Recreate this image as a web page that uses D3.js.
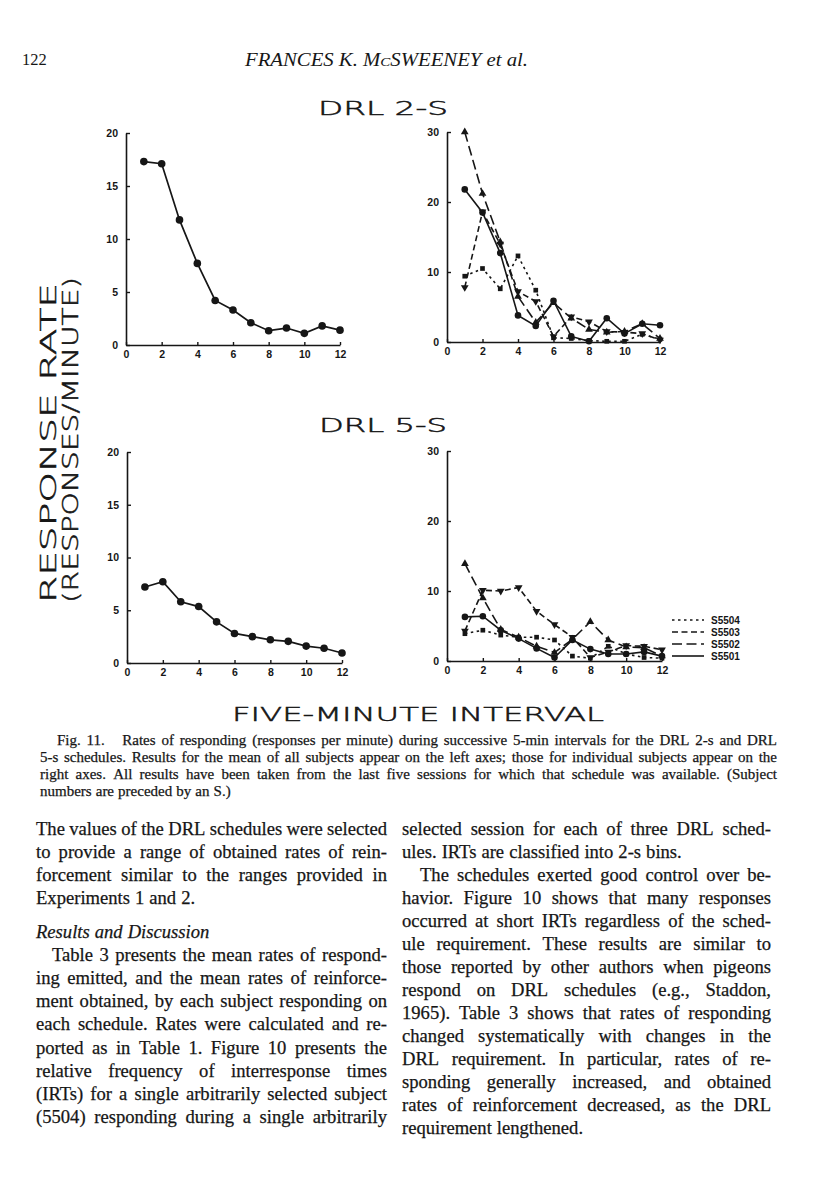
<!DOCTYPE html>
<html>
<head>
<meta charset="utf-8">
<script src="https://cdn.jsdelivr.net/npm/d3@7"></script>
<style>
	body { margin: 0; background: #fff; }
	svg { display: block; }
</style>
</head>
<body>
<svg id="page" width="816" height="1200"></svg>
<script>
// five-minute intervals on the x axis
const intervals = [1, 2, 3, 4, 5, 6, 7, 8, 9, 10, 11, 12];
const xTicks = [0, 2, 4, 6, 8, 10, 12];
const meanTicks = [0, 5, 10, 15, 20];
const subjectTicks = [0, 10, 20, 30];

// mean of all subjects (left axes)
const meanDrl2 = [17.3, 17.1, 11.8, 7.7, 4.2, 3.3, 2.1, 1.35, 1.6, 1.1, 1.8, 1.4];
const meanDrl5 = [7.2, 7.7, 5.8, 5.35, 3.9, 2.8, 2.5, 2.2, 2.05, 1.6, 1.4, 0.95];

// individual subjects (right axes)
const subjects = ["S5504", "S5503", "S5502", "S5501"];
const drl2S5504 = [9.4, 10.5, 7.6, 12.3, 7.4, 0.6, 0.5, 0.2, 0.1, 0.1, 1.1, 0.4];
const drl2S5503 = [7.8, 18.6, 14.0, 7.2, 5.8, 0.8, 3.6, 2.9, 1.5, 1.4, 1.2, 0.3];
const drl2S5502 = [30, 21.2, 14.3, 6.5, 2.8, 5.6, 3.4, 1.8, 1.4, 1.5, 2.6, 0.5];
const drl2S5501 = [21.8, 18.5, 12.7, 3.8, 2.3, 5.9, 0.8, 0.1, 3.4, 1.2, 2.6, 2.4];

const drl5S5504 = [3.9, 4.4, 3.7, 3.4, 3.4, 3.0, 0.7, 0.4, 2.1, 1.0, 0.5, 0.4];
const drl5S5503 = [4.3, 10.1, 10.0, 10.5, 7.1, 5.2, 3.4, 0.5, 1.3, 2.2, 2.1, 1.6];
const drl5S5502 = [13.9, 9.0, 4.5, 3.4, 2.1, 1.2, 3.1, 5.6, 3.0, 2.0, 1.9, 0.7];
const drl5S5501 = [6.3, 6.4, 4.4, 3.2, 1.8, 0.5, 3.0, 1.7, 1.0, 1.0, 1.3, 0.7];

const ink = "#161616";
const serif = "'Liberation Serif', 'Times New Roman', serif";
const sans = "'Liberation Sans', Arial, sans-serif";
const plotter = "'DejaVu Sans', sans-serif";

const svg = d3.select("#page");

// dash pattern and marker for each subject
const subjectStyle = {
	S5504: { dash: "2.5,3.5", symbol: d3.symbolSquare, size: 22, rotate: 0 },
	S5503: { dash: "6,3.5", symbol: d3.symbolTriangle, size: 26, rotate: 180 },
	S5502: { dash: "10,4.5", symbol: d3.symbolTriangle, size: 26, rotate: 0 },
	S5501: { dash: null, symbol: d3.symbolCircle, size: 34, rotate: 0 }
};

function drawAxes(g, x, y, yTicks) {
	const xAxis = g.append("g")
		.attr("transform", `translate(0,${y.range()[0]})`)
		.call(d3.axisBottom(x).tickValues(xTicks).tickSizeInner(-3).tickSizeOuter(0).tickPadding(6));
	const yAxis = g.append("g")
		.attr("transform", `translate(${x.range()[0]},0)`)
		.call(d3.axisLeft(y).tickValues(yTicks).tickSizeInner(-4).tickSizeOuter(0).tickPadding(8));
	[xAxis, yAxis].forEach(a => {
		a.select(".domain").attr("stroke", ink).attr("stroke-width", 1.6);
		a.selectAll(".tick line").attr("stroke", ink).attr("stroke-width", 1.4);
		a.selectAll(".tick text")
			.attr("fill", ink)
			.style("font-family", sans)
			.style("font-weight", "bold")
			.style("font-size", "10.5px");
	});
}

function meanPanel(values, xr, yr) {
	const x = d3.scaleLinear().domain([0, 12]).range(xr);
	const y = d3.scaleLinear().domain([0, 20]).range(yr);
	const g = svg.append("g");
	drawAxes(g, x, y, meanTicks);
	const pts = intervals.map((d, i) => ({ x: d, y: values[i] }));
	g.append("path")
		.datum(pts)
		.attr("fill", "none")
		.attr("stroke", ink)
		.attr("stroke-width", 1.7)
		.attr("d", d3.line().x(d => x(d.x)).y(d => y(d.y)));
	g.selectAll("circle.pt")
		.data(pts).enter()
		.append("circle")
		.classed("pt", true)
		.attr("cx", d => x(d.x))
		.attr("cy", d => y(d.y))
		.attr("r", 3.8)
		.attr("fill", ink);
}

function subjectPanel(series, xr, yr) {
	const x = d3.scaleLinear().domain([0, 12]).range(xr);
	const y = d3.scaleLinear().domain([0, 30]).range(yr);
	const g = svg.append("g");
	drawAxes(g, x, y, subjectTicks);
	series.forEach(s => {
		const st = subjectStyle[s.name];
		const pts = intervals.map((d, i) => ({ x: d, y: s.values[i] }));
		g.append("path")
			.datum(pts)
			.attr("fill", "none")
			.attr("stroke", ink)
			.attr("stroke-width", 1.6)
			.attr("stroke-dasharray", st.dash)
			.attr("d", d3.line().x(d => x(d.x)).y(d => y(d.y)));
		g.selectAll(null)
			.data(pts).enter()
			.append("path")
			.attr("transform", d => `translate(${x(d.x)},${y(d.y)}) rotate(${st.rotate})`)
			.attr("d", d3.symbol().type(st.symbol).size(st.size))
			.attr("fill", ink);
	});
}

meanPanel(meanDrl2, [126, 340], [345, 133]);
meanPanel(meanDrl5, [127, 342], [663, 452]);

subjectPanel([
	{ name: "S5504", values: drl2S5504 },
	{ name: "S5503", values: drl2S5503 },
	{ name: "S5502", values: drl2S5502 },
	{ name: "S5501", values: drl2S5501 }
], [447, 660], [342, 132]);

subjectPanel([
	{ name: "S5504", values: drl5S5504 },
	{ name: "S5503", values: drl5S5503 },
	{ name: "S5502", values: drl5S5502 },
	{ name: "S5501", values: drl5S5501 }
], [447, 662], [661, 451]);

// legend
const legend = svg.append("g");
subjects.forEach((name, i) => {
	const ly = 620 + i * 12;
	legend.append("line")
		.attr("x1", 672).attr("x2", 704)
		.attr("y1", ly).attr("y2", ly)
		.attr("stroke", ink)
		.attr("stroke-width", 1.6)
		.attr("stroke-dasharray", subjectStyle[name].dash);
	legend.append("text")
		.attr("x", 711).attr("y", ly + 3.8)
		.attr("fill", ink)
		.style("font-family", sans)
		.style("font-weight", "bold")
		.style("font-size", "10px")
		.text(name);
});

// wide plotter lettering
function plotText(str, x, y, len, size, rotate) {
	const t = svg.append("text")
		.attr("fill", ink)
		.attr("text-anchor", "middle")
		.attr("textLength", len)
		.attr("lengthAdjust", "spacingAndGlyphs")
		.attr("stroke", ink)
		.attr("stroke-width", 0.5)
		.style("font-family", plotter)
		.style("font-weight", 200)
		.style("font-size", size + "px")
		.text(str);
	if (rotate) t.attr("transform", `translate(${x},${y}) rotate(-90)`);
	else t.attr("x", x).attr("y", y);
}

plotText("DRL  2-S", 383, 115, 130, 19);
plotText("DRL  5-S", 383, 432, 128, 19);
plotText("FIVE-MINUTE  INTERVAL", 418, 721, 372, 20);
plotText("RESPONSE  RATE", 56, 443, 320, 21, true);
plotText("(RESPONSES/MINUTE)", 78, 440, 326, 21, true);

// running head
svg.append("text")
	.attr("x", 22).attr("y", 65)
	.attr("fill", ink)
	.style("font-family", serif)
	.style("font-size", "16.5px")
	.text("122");

const head = svg.append("text")
	.attr("x", 245).attr("y", 66)
	.attr("textLength", 283)
	.attr("lengthAdjust", "spacingAndGlyphs")
	.attr("fill", ink)
	.style("font-family", serif)
	.style("font-style", "italic")
	.style("font-size", "18px");
head.append("tspan").text("FRANCES K. M");
head.append("tspan").style("font-size", "13px").text("C");
head.append("tspan").text("SWEENEY ");
head.append("tspan").text("et al.");

// justified text lines, word by word
function setLine(str, x0, x1, y, size, justify, style) {
	const t = svg.append("text")
		.attr("y", y)
		.attr("fill", ink)
		.attr("stroke", ink)
		.attr("stroke-width", 0.25)
		.style("font-family", serif)
		.style("font-size", size + "px")
		.style("font-style", style || "normal");
	const words = str.split(" ");
	const spans = words.map(w => t.append("tspan").text(w));
	const widths = spans.map(s => s.node().getComputedTextLength());
	const total = d3.sum(widths);
	let gap = size * 0.27;
	if (justify && words.length > 1) gap = (x1 - x0 - total) / (words.length - 1);
	let x = x0;
	spans.forEach((s, i) => {
		s.attr("x", x);
		x += widths[i] + gap;
	});
}

const captionLines = [
	"Fig. 11.   Rates of responding (responses per minute) during successive 5-min intervals for the DRL 2-s and DRL",
	"5-s schedules. Results for the mean of all subjects appear on the left axes; those for individual subjects appear on the",
	"right axes. All results have been taken from the last five sessions for which that schedule was available. (Subject",
	"numbers are preceded by an S.)"
];
captionLines.forEach((line, i) => {
	setLine(line, i === 0 ? 57 : 40, 777, 745 + i * 17, 15, i < 3);
});

const leftColumn = [
	["The values of the DRL schedules were selected", 0, true],
	["to provide a range of obtained rates of rein-", 0, true],
	["forcement similar to the ranges provided in", 0, true],
	["Experiments 1 and 2.", 0, false],
	["Results and Discussion", 0, false, "italic"],
	["Table 3 presents the mean rates of respond-", 16, true],
	["ing emitted, and the mean rates of reinforce-", 0, true],
	["ment obtained, by each subject responding on", 0, true],
	["each schedule. Rates were calculated and re-", 0, true],
	["ported as in Table 1. Figure 10 presents the", 0, true],
	["relative frequency of interresponse times", 0, true],
	["(IRTs) for a single arbitrarily selected subject", 0, true],
	["(5504) responding during a single arbitrarily", 0, true]
];
const leftY = [835, 858, 881, 904, 938, 961, 984, 1007, 1030, 1054, 1077, 1100, 1123];
leftColumn.forEach((l, i) => setLine(l[0], 36 + l[1], 387, leftY[i], 18.6, l[2], l[3]));

const rightColumn = [
	["selected session for each of three DRL sched-", 0, true],
	["ules. IRTs are classified into 2-s bins.", 0, false],
	["The schedules exerted good control over be-", 18, true],
	["havior. Figure 10 shows that many responses", 0, true],
	["occurred at short IRTs regardless of the sched-", 0, true],
	["ule requirement. These results are similar to", 0, true],
	["those reported by other authors when pigeons", 0, true],
	["respond on DRL schedules (e.g., Staddon,", 0, true],
	["1965). Table 3 shows that rates of responding", 0, true],
	["changed systematically with changes in the", 0, true],
	["DRL requirement. In particular, rates of re-", 0, true],
	["sponding generally increased, and obtained", 0, true],
	["rates of reinforcement decreased, as the DRL", 0, true],
	["requirement lengthened.", 0, false]
];
rightColumn.forEach((l, i) => setLine(l[0], 402 + l[1], 771, 835 + i * 23, 18.6, l[2]));
</script>
</body>
</html>
